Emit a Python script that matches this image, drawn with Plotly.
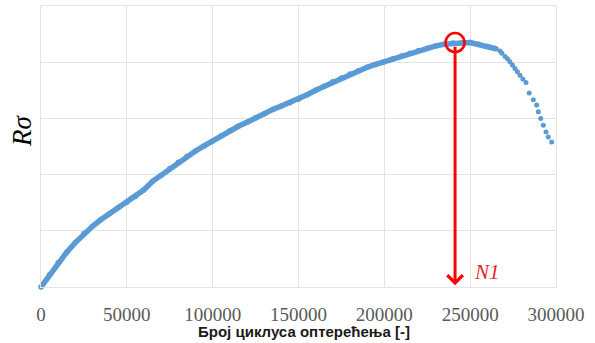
import plotly.graph_objects as go

# Dense part of the measured curve (cycles, Rσ in relative units)
cycles_main = [0, 5000, 10000, 15000, 20000, 25000, 30000, 35000, 40000, 45000,
               50000, 55000, 60000, 65000, 70000, 75000, 80000, 85000, 90000, 95000,
               100000, 105000, 110000, 115000, 120000, 125000, 130000, 135000, 140000, 145000,
               150000, 155000, 160000, 165000, 170000, 175000, 180000, 185000, 190000, 195000,
               200000, 205000, 210000, 215000, 220000, 225000, 230000, 235000, 240000, 245000,
               250000, 255000, 260000, 265000]
rsigma_main = [0.00, 0.22, 0.43, 0.62, 0.79, 0.95, 1.08, 1.20, 1.31, 1.41,
               1.51, 1.61, 1.73, 1.88, 1.99, 2.11, 2.22, 2.32, 2.42, 2.51,
               2.60, 2.69, 2.78, 2.86, 2.93, 3.01, 3.08, 3.16, 3.22, 3.28,
               3.34, 3.42, 3.50, 3.57, 3.65, 3.72, 3.79, 3.85, 3.91, 3.96,
               4.01, 4.06, 4.11, 4.16, 4.21, 4.25, 4.29, 4.32, 4.34, 4.34,
               4.35, 4.32, 4.28, 4.24]

# Sparse tail after the peak
cycles_tail = [267400, 268500, 270300, 271800, 273200, 274600, 276100, 277500, 279000,
               280700, 282500, 284400, 286800, 288700, 289700, 291100, 292600, 294200,
               295500, 297500]
rsigma_tail = [4.20, 4.16, 4.10, 4.06, 4.01, 3.95, 3.89, 3.83, 3.77,
               3.70, 3.64, 3.45, 3.33, 3.24, 3.12, 3.00, 2.88, 2.76,
               2.67, 2.58]

# Marked point N1
n1_cycles = 241200
n1_value = 4.35
n1_arrow_start = 4.30
n1_arrow_end = 0.03

x_ticks = [0, 50000, 100000, 150000, 200000, 250000, 300000]
x_tick_labels = ["0", "50000", "100000", "150000", "200000", "250000", "300000"]

blue = "#5B9BD5"
red = "#FF0000"
grid = "#E3E3E3"

fig = go.Figure()
fig.add_trace(go.Scatter(x=cycles_main, y=rsigma_main, mode="lines+markers",
                         line=dict(color=blue, width=5.5),
                         marker=dict(color=blue, size=5.5), hoverinfo="skip",
                         cliponaxis=False))
fig.add_trace(go.Scatter(x=cycles_tail, y=rsigma_tail, mode="markers",
                         marker=dict(color=blue, size=5), hoverinfo="skip"))
fig.add_trace(go.Scatter(x=[n1_cycles], y=[n1_value], mode="markers",
                         marker=dict(symbol="circle-open", size=19, color=red,
                                     line=dict(color=red, width=2.5)),
                         hoverinfo="skip"))

fig.add_annotation(x=n1_cycles, y=n1_arrow_end, ax=n1_cycles, ay=n1_arrow_start,
                   xref="x", yref="y", axref="x", ayref="y", text="",
                   showarrow=True, arrowhead=4, arrowsize=1, arrowwidth=3,
                   arrowcolor=red)
fig.add_annotation(x=n1_cycles + 9800, y=0.27, xref="x", yref="y", text="<i>N1</i>",
                   showarrow=False, xanchor="left", yanchor="middle",
                   font=dict(family="Liberation Serif", size=21, color="#E8262B"))
fig.add_annotation(x=-19/515, y=0.555, xref="paper", yref="paper", text="<i>Rσ</i>",
                   showarrow=False, textangle=-90, xanchor="center", yanchor="middle",
                   font=dict(family="Liberation Serif", size=27, color="#000000"))
fig.add_annotation(x=0.511, y=-44/281, xref="paper", yref="paper",
                   text="<b>Број циклуса оптерећења [-]</b>",
                   showarrow=False, xanchor="center", yanchor="middle",
                   font=dict(family="Liberation Sans", size=15, color="#1A1A1A"))

fig.update_layout(
    width=595, height=343,
    margin=dict(l=41, r=39, t=6, b=56, autoexpand=False),
    plot_bgcolor="white", paper_bgcolor="white",
    showlegend=False,
)
fig.update_xaxes(range=[0, 300000], tickvals=x_ticks, ticktext=x_tick_labels,
                 showgrid=True, gridcolor=grid, gridwidth=1,
                 zeroline=False, automargin=False,
                 ticks="outside", ticklen=10, tickcolor="rgba(0,0,0,0)",
                 tickfont=dict(family="Liberation Serif", size=19, color="#595959"),
                 mirror=True, showline=True, linecolor=grid, linewidth=1)
fig.update_yaxes(range=[0, 5], dtick=1, showticklabels=False,
                 showgrid=True, gridcolor=grid, gridwidth=1,
                 zeroline=False, automargin=False,
                 mirror=True, showline=True, linecolor=grid, linewidth=1)

fig.write_html("out.html", config={"displayModeBar": False},
               post_script="document.body.style.margin='0px';document.body.style.overflow='hidden';")
